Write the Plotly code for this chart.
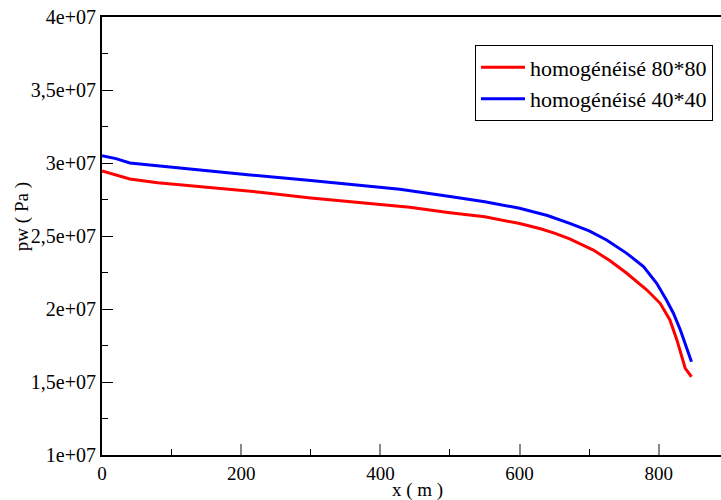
import plotly.graph_objects as go

# Data
x_red = [0, 10, 20, 40, 80, 150, 227, 300, 400, 442, 500, 550, 600, 630, 650, 672, 706, 730, 754, 783, 802, 816, 826, 833, 838, 847]
y_red = [2.945e7, 2.93e7, 2.915e7, 2.89e7, 2.865e7, 2.832e7, 2.80e7, 2.76e7, 2.715e7, 2.697e7, 2.66e7, 2.632e7,
         2.585e7, 2.55e7, 2.52e7, 2.48e7, 2.404e7, 2.33e7, 2.245e7, 2.13e7, 2.039e7, 1.925e7, 1.788e7, 1.673e7, 1.594e7, 1.536e7]
x_blue = [0, 20, 40, 80, 150, 213, 300, 428, 500, 550, 600, 640, 672, 700, 725, 754, 778, 797, 811, 821, 831, 840, 847]
y_blue = [3.05e7, 3.03e7, 3.0e7, 2.98e7, 2.95e7, 2.918e7, 2.88e7, 2.82e7, 2.77e7, 2.735e7, 2.69e7, 2.64e7, 2.587e7,
          2.535e7, 2.473e7, 2.381e7, 2.29e7, 2.176e7, 2.062e7, 1.971e7, 1.856e7, 1.742e7, 1.639e7]
name_red = "homogénéisé 80*80"
name_blue = "homogénéisé 40*40"
ytick_vals = [1e7, 1.5e7, 2e7, 2.5e7, 3e7, 3.5e7, 4e7]
ytick_text = ["1e+07", "1,5e+07", "2e+07", "2,5e+07", "3e+07", "3,5e+07", "4e+07"]
xtick_vals = [0, 200, 400, 600, 800]
x_title = "x ( m )"
y_title = "pw ( Pa )"

font = "Liberation Serif"

fig = go.Figure()
fig.add_trace(go.Scatter(x=x_red, y=y_red, mode="lines", name=name_red,
                         line=dict(color="#ff0000", width=3)))
fig.add_trace(go.Scatter(x=x_blue, y=y_blue, mode="lines", name=name_blue,
                         line=dict(color="#0000ff", width=3)))

fig.update_layout(
    width=721, height=500,
    margin=dict(l=102, r=0, t=17, b=45),
    paper_bgcolor="white", plot_bgcolor="white",
    font=dict(family=font, size=18, color="black"),
    showlegend=True,
    legend=dict(x=0.6026, y=0.935, xanchor="left", yanchor="top",
                bordercolor="black", borderwidth=1, bgcolor="white",
                font=dict(family=font, size=22), itemwidth=44,
                tracegroupgap=0),
    annotations=[
        dict(text=x_title, xref="paper", yref="paper", x=0.51, y=0, xanchor="center",
             yanchor="middle", yshift=-35, showarrow=False, font=dict(family=font, size=19)),
        dict(text=y_title, xref="paper", yref="paper", x=0, y=0.543, xanchor="center",
             yanchor="middle", xshift=-80, textangle=-90, showarrow=False, font=dict(family=font, size=19)),
    ],
)
fig.update_xaxes(
    range=[0, 889.4], showgrid=False, zeroline=False,
    showline=True, linecolor="black", linewidth=2, mirror=True,
    tickmode="array", tickvals=xtick_vals, ticktext=[str(v) for v in xtick_vals],
    ticks="inside", ticklen=11, tickwidth=2, tickcolor="#888888",
    minor=dict(tickmode="array", tickvals=[100, 300, 500, 700], ticks="inside", ticklen=6, tickwidth=1, tickcolor="black"),
    tickfont=dict(family=font, size=19),
)
fig.update_yaxes(
    range=[1e7, 4e7], showgrid=False, zeroline=False,
    showline=True, linecolor="black", linewidth=2,
    tickmode="array", tickvals=ytick_vals, ticktext=ytick_text,
    ticks="inside", ticklen=11, tickwidth=1, tickcolor="black",
    minor=dict(tickmode="array", tickvals=[1.25e7, 1.75e7, 2.25e7, 2.75e7, 3.25e7, 3.75e7],
               ticks="inside", ticklen=6, tickwidth=1, tickcolor="black"),
    tickfont=dict(family=font, size=20),
)

fig.write_html("out.html")
